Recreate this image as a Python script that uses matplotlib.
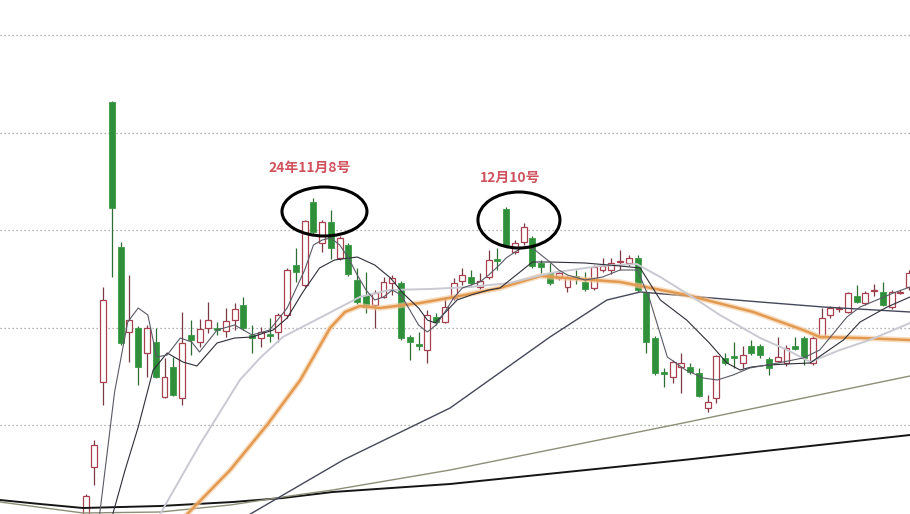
import numpy as np
import matplotlib
matplotlib.use('Agg')
from matplotlib import pyplot as plt
from matplotlib.patches import Ellipse

plt.rcParams['font.family'] = ['Noto Sans CJK SC', 'DejaVu Sans']

# K线数据 (开 高 低 收), 价格单位为相对刻度
opens = [-1.1, 4.7, 13.2, 41.2, 26.7, 18.2, 18.6, 16.1, 17.2, 11.7,
         14.7, 11.6, 17.9, 17.2, 18.6, 18.6, 18.3, 19.4, 20.9, 17.9,
         17.6, 18.0, 18.2, 19.9, 24.9, 22.9, 31.2, 27.1, 29.2, 25.6,
         26.9, 23.4, 21.9, 20.9, 21.7, 23.1, 23.1, 17.7, 17.0, 16.4,
         19.7, 19.2, 21.6, 23.3, 23.7, 22.7, 23.7, 25.5, 30.5, 26.2,
         27.2, 27.6, 25.1, 24.1, 23.6, 22.7, 23.8, 23.2, 22.6, 24.4,
         24.4, 25.2, 25.1, 25.6, 22.1, 17.6, 14.2, 13.7, 14.7, 14.7,
         14.1, 10.6, 11.6, 15.6, 15.8, 15.1, 16.8, 16.8, 15.5, 15.3,
         15.1, 16.8, 17.6, 15.1, 17.7, 19.9, 20.5, 20.2, 21.8, 21.1,
         22.3, 22.2, 20.7, 22.1, 22.7]
closes = [1.8, 6.9, 21.4, 30.6, 17.1, 19.4, 14.7, 18.6, 13.7, 13.7,
          11.9, 17.1, 17.4, 18.5, 19.4, 18.4, 19.3, 20.5, 18.6, 17.6,
          18.2, 17.8, 19.9, 24.4, 24.2, 29.3, 28.2, 29.2, 26.6, 27.6,
          24.0, 21.2, 20.7, 22.1, 23.2, 23.6, 17.6, 17.2, 16.8, 19.9,
          19.2, 20.7, 23.1, 23.9, 23.1, 23.3, 25.4, 25.3, 26.9, 27.1,
          28.7, 24.8, 24.7, 23.1, 24.1, 23.6, 23.6, 22.5, 24.7, 24.8,
          25.1, 25.3, 25.6, 22.4, 17.2, 14.1, 14.0, 15.2, 15.1, 14.2,
          11.8, 11.2, 15.8, 15.1, 15.6, 15.9, 16.1, 15.9, 14.6, 15.7,
          16.6, 16.5, 15.6, 17.6, 19.6, 20.6, 20.6, 22.1, 21.2, 22.1,
          22.4, 20.9, 22.2, 22.2, 24.1]
highs = [2.0, 7.4, 22.7, 41.3, 27.2, 23.9, 18.8, 18.9, 18.6, 15.6,
         15.7, 20.2, 19.4, 19.5, 21.2, 19.2, 20.6, 21.1, 21.7, 18.9,
         18.7, 19.6, 20.1, 24.6, 26.6, 29.4, 31.6, 29.4, 30.4, 27.8,
         27.1, 24.6, 24.2, 22.4, 23.7, 23.9, 23.3, 17.9, 18.2, 20.4,
         20.1, 21.7, 23.6, 24.6, 24.4, 24.1, 26.4, 26.6, 30.7, 27.4,
         29.1, 27.8, 25.4, 25.1, 24.4, 23.8, 24.4, 24.2, 24.9, 25.6,
         25.6, 26.4, 25.9, 25.9, 22.4, 17.8, 14.6, 15.4, 16.1, 15.1,
         14.6, 11.9, 15.9, 16.1, 17.2, 16.8, 17.4, 17.0, 15.7, 17.7,
         16.9, 17.7, 17.8, 17.8, 20.6, 20.8, 20.8, 22.2, 22.9, 22.3,
         23.0, 23.2, 22.4, 22.4, 24.4]
lows = [-1.6, 2.9, 10.9, 23.7, 16.9, 15.2, 12.9, 13.7, 13.6, 11.6,
        11.8, 10.9, 15.9, 16.7, 18.1, 17.9, 17.7, 18.4, 18.4, 16.1,
        16.7, 17.2, 17.2, 19.6, 23.2, 22.7, 28.0, 26.2, 25.5, 25.4,
        23.8, 21.0, 20.1, 18.6, 21.6, 21.9, 17.4, 15.4, 16.4, 15.1,
        18.9, 19.1, 21.4, 22.9, 22.9, 22.5, 23.5, 24.4, 26.7, 26.0,
        26.9, 24.6, 24.1, 22.9, 23.4, 22.2, 23.0, 22.3, 22.4, 24.2,
        24.0, 24.4, 24.8, 22.2, 16.1, 13.9, 12.7, 13.1, 12.1, 14.0,
        11.7, 10.2, 11.1, 14.9, 14.6, 14.6, 15.9, 15.6, 13.9, 15.2,
        14.8, 16.4, 14.9, 14.9, 17.6, 19.6, 20.2, 20.1, 21.1, 20.9,
        21.8, 20.8, 20.5, 22.0, 22.4]

# 均线 (读图所得的点: K线序号, 数值)
ma5_x = [1.6, 3.3, 4.8, 6.0, 7.1, 8.1, 9.3, 10.8, 12.1, 13.0, 15, 17, 19, 21, 23,
         25, 26, 27, 28, 29, 30, 31, 32, 33, 34, 35, 36, 37, 38, 39, 40, 41, 42,
         43, 44, 45, 46, 47, 48, 49, 50, 51, 52, 53, 54, 55, 57, 59, 61, 63,
         64.4, 66.4, 68.5, 70.5, 72.1, 73.9, 75.8, 77.8, 79.6, 81.9, 83.8, 86.9,
         88.4, 92.2, 94.1]
ma5_y = [0.0, 12.2, 19.2, 20.6, 19.9, 15.7, 15.9, 17.6, 17.2, 16.2, 18.4, 18.9,
         17.9, 18.4, 20.6, 24.4, 26.9, 27.4, 27.6, 26.9, 25.6, 23.9, 22.4, 21.4,
         21.7, 22.4, 21.9, 20.4, 18.9, 18.2, 18.9, 20.2, 21.6, 22.6, 22.9, 23.2,
         23.9, 24.7, 25.6, 26.2, 26.7, 26.6, 25.9, 25.2, 24.4, 23.9, 23.4, 23.7,
         24.4, 24.4, 21.4, 15.7, 14.4, 13.6, 13.4, 13.9, 14.6, 14.9, 15.2, 15.6,
         16.4, 19.7, 20.7, 22.1, 22.7]
ma10_x = [3.1, 4.5, 6.0, 7.7, 9.3, 11.1, 12.7, 15.0, 17.0, 19.0, 21.4, 23, 24.8,
          26.7, 28.4, 31, 33, 34.8, 36.2, 38, 39, 39.9, 42.4, 44, 46, 47.3, 51,
          53, 57, 61, 63.3, 65.6, 68.6, 71.2, 73.2, 74.7, 76, 78, 80, 82.7, 86.5,
          88.4, 91.5, 94.1]
ma10_y = [0.0, 4.4, 8.7, 14.4, 16.1, 15.2, 14.8, 17.1, 17.6, 17.7, 18.4, 19.6,
          22.2, 24.6, 25.4, 25.7, 24.9, 23.6, 22.1, 20.6, 19.4, 19.1, 21.4, 21.9,
          22.4, 22.6, 25.2, 25.2, 25.1, 24.8, 24.6, 21.4, 19.4, 17.1, 15.1, 14.4,
          14.7, 14.9, 15.0, 15.1, 17.4, 19.2, 20.7, 21.7]
ma20_x = [8.5, 13.0, 17.6, 19.9, 22.5, 26.7, 31.3, 34.7, 39.3, 43.9, 48.4, 53.0,
          58.7, 62.9, 65.6, 69.8, 72.4, 77.0, 80.1, 82.7, 86.1, 89.5, 94.1]
ma20_y = [0.0, 6.9, 13.4, 15.6, 17.7, 19.6, 21.7, 22.4, 22.5, 22.7, 23.1, 24.1,
          24.8, 25.0, 23.7, 21.4, 19.9, 17.6, 16.4, 15.2, 16.4, 17.4, 19.1]
ma30_x = [11.6, 16.5, 20.7, 24.5, 27.9, 29.6, 31.3, 33.6, 38.2, 42.7, 47.3, 51.9,
          56.4, 61.0, 68.6, 76.2, 81.9, 83.8, 88.4, 94.1]
ma30_y = [0.0, 4.4, 8.9, 13.4, 18.6, 20.2, 20.8, 20.6, 21.1, 21.8, 22.6, 23.8,
          23.5, 23.2, 21.9, 20.2, 18.4, 17.7, 17.6, 17.4]
ma60_x = [17.6, 18.8, 29.4, 41.6, 53.0, 59.5, 63.3, 70.1, 77.0, 84.2, 94.1]
ma60_y = [-1.0, 0.0, 5.4, 10.6, 17.7, 21.4, 22.2, 21.7, 21.2, 20.7, 20.2]
ma120_x = [-9.8, -0.3, 8.5, 16.5, 23.3, 28.2, 41.6, 68.2, 94.1]
ma120_y = [1.2, 0.1, 0.2, 0.9, 1.8, 2.4, 4.4, 9.1, 13.8]
ma250_x = [-9.8, -5.2, -0.3, 8.5, 16.8, 22.5, 28.2, 41.6, 68.2, 94.1]
ma250_y = [1.4, 1.0, 0.6, 0.8, 1.2, 1.6, 2.2, 3.0, 5.4, 7.9]

notes = ['24年11月8号', '12月10号']
note_x = [25.6, 48.4]
note_y = [34.6, 33.6]

fig = plt.figure(figsize=(9.1, 5.14), dpi=100)
ax = fig.add_axes([0, 0, 1, 1])
ax.set_xlim(-9.78, 94.1)
ax.set_ylim(0, 51.4)
ax.axis('off')

# 虚线网格
for g in np.linspace(8.9, 47.9, 5):
    ax.axhline(g, color='#9a9a9a', lw=0.9, ls=(0, (1, 2.2)), zorder=0)

# K线
idx = np.arange(len(opens))
o = np.array(opens); c = np.array(closes)
h = np.array(highs); l = np.array(lows)
up = c >= o
body = np.maximum(np.abs(c - o), 0.15)
bot = np.minimum(o, c)
ax.vlines(idx[up], l[up], h[up], color='#7a3a44', lw=0.9, zorder=2)
ax.vlines(idx[~up], l[~up], h[~up], color='#2e6e34', lw=0.9, zorder=2)
ax.bar(idx[up], body[up], bottom=bot[up], width=0.68, facecolor='white',
       edgecolor='#a8404f', lw=0.9, zorder=3)
ax.bar(idx[~up], body[~up], bottom=bot[~up], width=0.68, facecolor='#2f8f3a',
       edgecolor='#3a9a44', lw=0.6, zorder=3)

# 均线
ax.plot(ma250_x, ma250_y, color='#151515', lw=1.4, zorder=4)
ax.plot(ma120_x, ma120_y, color='#8e8e78', lw=1.0, zorder=4)
ax.plot(ma60_x, ma60_y, color='#45485a', lw=1.0, zorder=4)
ax.plot(ma30_x, ma30_y, color='#f3c89a', lw=4.0, alpha=0.6, zorder=4)
ax.plot(ma30_x, ma30_y, color='#e39a50', lw=1.8, zorder=4)
ax.plot(ma20_x, ma20_y, color='#c9c9d2', lw=1.4, zorder=4)
ax.plot(ma10_x, ma10_y, color='#2e2e38', lw=0.8, zorder=5)
ax.plot(ma5_x, ma5_y, color='#5a5a66', lw=0.8, zorder=5)

# 标注
for t, x, y in zip(notes, note_x, note_y):
    ax.text(x, y, t, color='#d0525e', fontsize=10, fontweight='bold',
            ha='center', va='center', zorder=6)
ax.add_patch(Ellipse((27.26, 30.25), 9.7, 4.9, fill=False, ec='black', lw=2.2, zorder=6))
ax.add_patch(Ellipse((49.46, 29.4), 9.36, 5.6, fill=False, ec='black', lw=2.2, zorder=6))

fig.savefig('out.png', dpi=100, facecolor='white')
